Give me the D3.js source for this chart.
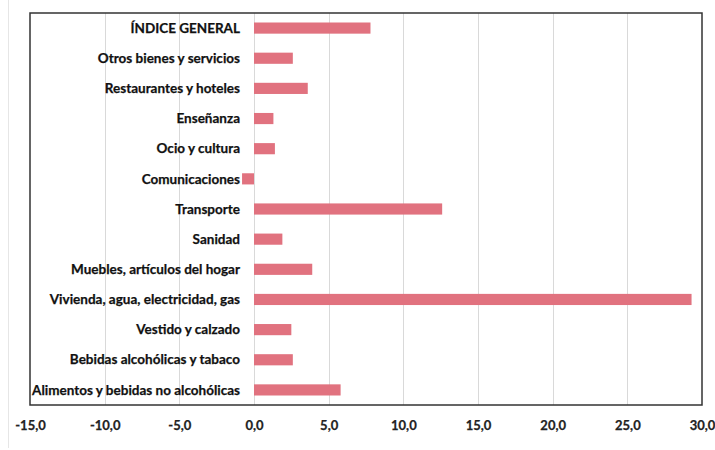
<!DOCTYPE html>
<html>
<head>
<meta charset="utf-8">
<script src="https://d3js.org/d3.v7.min.js"></script>
<style>
  body { margin: 0; background: #fff; }
  text { font-family: Lato, "Open Sans", sans-serif; font-weight: bold; fill: #111; }
</style>
</head>
<body>
<script>
// categories top to bottom
var categories = [
  "ÍNDICE GENERAL",
  "Otros bienes y servicios",
  "Restaurantes y hoteles",
  "Enseñanza",
  "Ocio y cultura",
  "Comunicaciones",
  "Transporte",
  "Sanidad",
  "Muebles, artículos del hogar",
  "Vivienda, agua, electricidad, gas",
  "Vestido y calzado",
  "Bebidas alcohólicas y tabaco",
  "Alimentos y bebidas no alcohólicas"
];
var values = [7.8, 2.6, 3.6, 1.3, 1.4, -0.8, 12.6, 1.9, 3.9, 29.3, 2.5, 2.6, 5.8];
var ticks = [-15, -10, -5, 0, 5, 10, 15, 20, 25, 30];

var W = 715, H = 450;
var plotLeft = 30, plotRight = 702, plotTop = 13, plotBottom = 405;

var svg = d3.select("body").append("svg")
  .attr("width", W).attr("height", H);

// faint outer line on the left
svg.append("line")
  .attr("x1", 8.5).attr("x2", 8.5).attr("y1", 0).attr("y2", 448)
  .style("stroke", "#e6e6e6");

var x = d3.scaleLinear().domain([-15, 30]).range([plotLeft, plotRight]);
var y = d3.scaleBand().domain(categories).range([plotTop, plotBottom])
  .paddingInner(0.63).paddingOuter(0.315);

// gridlines
svg.append("g").selectAll("line")
  .data(ticks.slice(1, -1))
  .join("line")
  .attr("x1", d => Math.round(x(d)) + 0.5)
  .attr("x2", d => Math.round(x(d)) + 0.5)
  .attr("y1", plotTop).attr("y2", plotBottom)
  .style("stroke", "#d9d9d9")
  .style("stroke-width", 1);

// bars
svg.append("g").selectAll("rect")
  .data(categories)
  .join("rect")
  .attr("x", (d, i) => x(Math.min(0, values[i])))
  .attr("width", (d, i) => Math.abs(x(values[i]) - x(0)))
  .attr("y", d => y(d))
  .attr("height", y.bandwidth())
  .style("fill", "#e1727f");

// category labels
svg.append("g").selectAll("text")
  .data(categories)
  .join("text")
  .attr("x", 240)
  .attr("y", d => y(d) + y.bandwidth() / 2)
  .attr("dy", "0.35em")
  .attr("text-anchor", "end")
  .style("font-size", "13.5px")
  .style("stroke", "#111")
  .style("stroke-width", 0.25)
  .text(d => d);

// plot border
svg.append("rect")
  .attr("x", plotLeft).attr("y", plotTop)
  .attr("width", plotRight - plotLeft).attr("height", plotBottom - plotTop)
  .style("fill", "none")
  .style("stroke", "#333")
  .style("stroke-width", 1.5);

// x axis
var fmt = d => d3.format(".1f")(d).replace(".", ",").replace("−", "-");
var xAxis = svg.append("g")
  .attr("transform", "translate(0," + plotBottom + ")")
  .call(d3.axisBottom(x).tickValues(ticks).tickFormat(fmt).tickSize(0).tickPadding(16));
xAxis.select(".domain").remove();
xAxis.selectAll("text")
  .style("font-family", "Lato, 'Open Sans', sans-serif")
  .style("font-weight", "bold")
  .style("font-size", "13px")
  .style("fill", "#222")
  .style("stroke", "#222")
  .style("stroke-width", 0.25);
</script>
</body>
</html>
